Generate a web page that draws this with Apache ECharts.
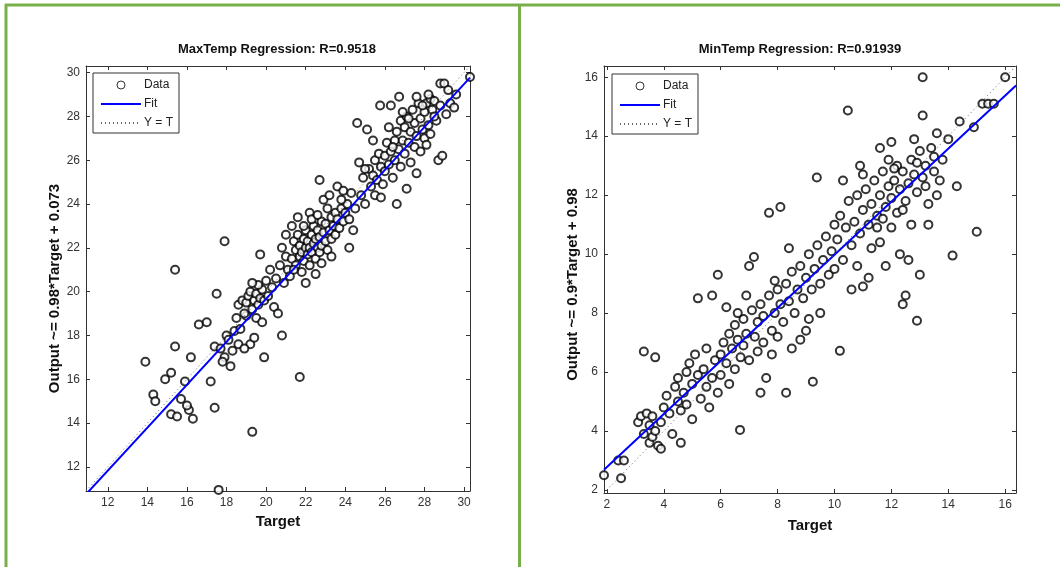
<!DOCTYPE html>
<html>
<head>
<meta charset="utf-8">
<script src="https://cdn.jsdelivr.net/npm/echarts@6/dist/echarts.min.js"></script>
<style>
  html, body { margin: 0; padding: 0; background: #fff; }
  #chart { width: 1060px; height: 567px; }
</style>
</head>
<body>
<div id="chart"></div>
<script>
// MaxTemp: [target, output]
const maxData = [
  [13.9,16.8],[14.3,15.3],[14.4,15.0],[14.9,16.0],[15.2,16.3],[15.4,17.5],[15.2,14.4],[15.5,14.3],[15.4,21.0],
  [15.7,15.1],[15.9,15.9],[16.2,17.0],[16.1,14.6],[16.3,14.2],[16.0,14.8],[16.6,18.5],[17.0,18.6],[17.2,15.9],
  [17.4,14.7],[17.5,19.9],[17.6,10.95],[17.4,17.5],[17.7,17.4],[17.9,17.0],[17.9,22.3],[17.8,16.8],[18.0,18.0],
  [18.2,16.6],[18.1,17.8],[18.3,17.3],[18.5,18.8],[18.4,18.2],[18.6,17.6],
  [18.6,19.4],[18.8,19.6],[19.0,19.5],[19.1,19.8],[19.2,20.0],[19.3,19.2],[19.4,19.6],[19.5,19.9],[19.6,19.4],
  [19.7,19.7],[19.8,20.1],[19.9,19.6],[19.6,20.3],[19.3,20.4],[19.0,18.9],[18.9,19.0],[19.5,18.8],[19.8,18.6],
  [20.1,19.8],[20.3,20.2],[20.0,20.5],[20.2,21.0],[19.7,21.7],[20.4,19.3],[19.2,17.6],[18.9,17.4],[19.4,17.9],
  [18.7,18.3],[19.9,17.0],[19.3,13.6],[20.8,18.0],[20.6,19.0],[20.5,20.6],[20.7,21.2],[20.9,20.4],
  [21.0,21.6],[21.1,21.0],[21.2,20.7],[21.3,21.5],[21.4,22.3],[21.5,21.9],[21.5,21.2],[21.6,22.6],[21.7,21.6],
  [21.7,22.1],[21.8,20.9],[21.8,21.8],[21.9,22.4],[21.9,21.4],[22.0,22.0],[22.0,22.8],[22.1,21.7],[22.1,22.3],
  [22.2,21.2],[22.2,22.0],[22.3,22.6],[22.3,21.8],[22.4,22.2],[22.4,23.0],[22.5,21.5],[22.5,22.4],[22.6,22.0],
  [22.6,22.8],[22.7,21.8],[22.7,22.5],[22.8,23.2],[22.8,22.1],[22.9,22.7],[23.0,22.3],[23.0,23.1],[23.1,21.9],
  [23.2,22.8],[23.3,23.4],[23.3,22.4],[23.4,23.0],[23.5,23.6],[23.5,22.6],[23.6,23.3],[23.7,22.9],[23.8,23.8],
  [23.9,23.2],[24.0,23.6],[24.1,24.0],[21.6,23.4],[21.3,23.0],[21.0,22.6],[20.8,22.0],[22.2,23.6],[22.7,25.1],
  [22.9,24.2],[23.2,24.4],[23.6,24.8],[22.0,20.4],[22.5,20.8],[21.7,16.1],[23.3,21.6],[22.8,21.3],[24.2,22.0],
  [24.4,22.8],[23.9,24.6],[24.2,23.3],[21.4,21.0],[21.9,23.0],[22.3,23.3],[22.6,23.5],[23.1,23.8],[23.8,24.2],
  [24.3,24.5],
  [24.5,23.8],[24.6,27.7],[24.8,24.4],[24.9,25.2],[25.0,24.0],[25.1,27.4],[25.2,25.6],[25.3,24.8],[25.4,25.3],
  [25.5,26.0],[25.5,24.4],[25.6,25.1],[25.7,26.3],[25.8,25.7],[25.76,28.5],[25.9,24.9],[26.0,25.5],[26.0,26.2],
  [26.1,26.8],[26.2,25.8],[26.3,28.5],[26.3,26.4],[26.4,25.2],[26.5,26.9],[26.5,26.0],[26.6,24.0],[26.6,27.3],
  [26.7,26.5],[26.72,28.9],[26.8,25.7],[26.8,27.8],[26.9,26.9],[27.0,26.3],[27.0,27.5],[27.1,24.7],[27.1,28.0],
  [27.2,26.8],[27.3,27.3],[27.3,25.9],[27.4,28.3],[27.5,26.6],[27.5,27.7],[27.6,27.1],[27.7,28.6],[27.8,26.4],
  [27.8,27.9],[27.9,27.4],[28.0,28.2],[28.0,27.0],[28.1,28.6],[28.2,27.6],[28.3,28.8],[28.3,27.2],[28.4,28.3],
  [28.5,28.7],[28.6,27.8],[28.7,26.0],[28.8,29.5],[28.8,28.5],[28.9,26.2],[29.0,29.5],[29.2,29.2],[29.1,28.1],
  [29.3,28.6],[29.5,28.4],[29.6,29.0],[30.3,29.8],[26.9,28.2],[27.6,28.9],[28.1,26.7],[25.4,26.9],[24.7,25.9],
  [25.0,25.6],[26.2,27.5],[27.9,28.5],[28.5,28.0],[26.4,26.6],[27.2,27.9],[25.8,24.3],[27.6,25.4],[28.2,29.0]
];

// MinTemp: [target, output]
const minData = [
  [1.9,2.5],[2.4,3.0],[2.6,3.0],[2.5,2.4],[3.1,4.3],[3.2,4.5],[3.3,3.9],[3.3,6.7],[3.4,4.6],[3.5,3.6],
  [3.5,4.2],[3.6,3.8],[3.6,4.5],[3.7,6.5],[3.7,4.0],[3.8,3.5],[3.9,3.4],[3.9,4.3],[4.0,4.8],[4.1,5.2],
  [4.2,4.6],[4.3,3.9],[4.4,5.5],[4.5,5.0],[4.5,5.8],[4.6,3.6],[4.6,4.7],[4.7,5.3],[4.8,6.0],[4.8,4.9],
  [4.9,6.3],[5.0,5.6],[5.0,4.4],[5.1,6.6],[5.2,5.9],[5.3,5.1],[5.2,8.5],[5.4,6.1],[5.5,5.5],[5.5,6.8],
  [5.6,4.8],[5.7,5.8],[5.7,8.6],[5.8,6.4],[5.9,9.3],[5.9,5.3],[6.0,6.6],[6.0,5.9],
  [6.1,7.0],[6.2,6.3],[6.3,7.3],[6.3,5.6],[6.4,6.8],[6.5,7.6],[6.5,6.1],[6.6,7.1],[6.68,4.04],[6.7,6.5],
  [6.8,7.8],[6.8,6.9],[6.9,7.3],[7.0,9.6],[7.0,6.4],[7.1,8.1],[7.17,9.9],[7.2,7.2],[7.3,7.7],[7.3,6.7],
  [7.4,8.3],[7.5,7.0],[7.5,7.9],[7.6,5.8],[7.7,11.4],[7.7,8.6],[7.8,7.4],[7.9,8.0],[8.0,8.8],[8.0,7.2],
  [8.1,11.6],[8.1,8.3],[8.2,7.7],[8.3,9.0],[8.4,8.4],[8.5,6.8],[8.5,9.4],[8.6,8.0],[8.7,8.8],[8.8,9.6],
  [8.9,8.5],[9.0,9.2],[9.0,7.4],[9.1,10.0],[9.2,8.8],[9.24,5.67],[9.3,9.5],[9.38,12.6],[9.4,10.3],[9.5,9.0],
  [9.5,8.0],[9.6,9.8],[9.7,10.6],[9.8,9.3],[9.9,10.1],[10.0,11.0],[10.0,9.5],[6.2,8.2],[6.6,8.0],[7.4,5.3],
  [8.3,5.3],[7.9,9.1],[8.8,7.1],[6.9,8.6],[7.8,6.6],[9.1,7.8],[8.4,10.2],
  [10.1,10.5],[10.19,6.72],[10.2,11.3],[10.3,9.8],[10.4,10.9],[10.47,14.87],[10.5,11.8],[10.6,10.3],[10.7,11.1],
  [10.8,12.0],[10.8,9.6],[10.9,13.0],[10.9,10.7],[11.0,11.5],[11.1,12.2],[11.2,9.2],[11.2,11.0],[11.3,11.7],
  [11.4,12.5],[11.5,16.4],[11.5,11.3],[11.6,10.4],[11.6,12.0],[11.7,12.8],[11.8,11.6],[11.9,13.2],[11.9,12.3],
  [12.0,11.9],[12.0,10.9],[12.1,12.5],[12.2,13.0],[12.2,11.4],[12.3,12.2],[12.4,12.8],[12.4,8.3],[12.5,11.8],
  [12.5,8.6],[12.6,12.4],[12.7,13.2],[12.7,11.0],[12.8,12.7],[12.9,7.74],[12.9,12.1],[13.0,13.5],[13.0,9.3],
  [13.1,16.0],[13.1,14.7],[13.1,12.6],[13.2,13.0],[13.3,11.7],[13.4,13.6],[13.5,12.8],[13.5,13.3],[13.6,14.1],
  [13.7,12.5],[13.8,13.2],[14.0,13.9],[14.15,9.95],[14.3,12.3],[14.4,14.5],[14.9,14.3],[15.0,10.76],[15.2,15.1],
  [15.4,15.1],[15.6,15.1],[16.0,16.0],[12.3,10.0],[11.8,9.6],[12.6,9.8],[10.6,8.8],[11.0,8.9],[13.3,11.0],
  [12.8,13.9],[13.6,12.0],[11.3,10.2],[12.1,12.9],[12.9,13.1],[13.2,12.3],[11.6,13.6],[12.4,11.5],[10.3,12.5],
  [11.0,12.7],[12.0,13.8],[11.5,10.9],[11.7,11.2]
];

// fit lines and Y = T lines (end points)
const maxFit = [[10.9, 10.75], [30.3, 29.77]];
const maxIdent = [[10.9, 10.9], [30.3, 30.3]];
const minFit = [[1.9, 2.69], [16.38, 15.72]];
const minIdent = [[1.9, 1.9], [16.38, 16.38]];

const maxTicks = [12, 14, 16, 18, 20, 22, 24, 26, 28, 30];
const minTicks = [2, 4, 6, 8, 10, 12, 14, 16];
const maxRange = [10.9, 30.3];
const minRange = [1.9, 16.38];

const FONT = '"Liberation Sans", Arial, sans-serif';
const green = '#77b04a';

const myChart = echarts.init(document.getElementById('chart'));

function boxAxis(grid, range, ticks, pos, showLabel, name, nameGap, nameRotate, namePad) {
    return {
        type: 'value', gridIndex: grid, position: pos,
        min: range[0], max: range[1],
        name: showLabel ? name : '',
        nameLocation: 'middle', nameGap: nameGap, nameRotate: nameRotate,
        nameTextStyle: { fontFamily: FONT, fontWeight: 'bold', fontSize: 15, color: '#111', padding: namePad || 0 },
        splitLine: { show: false },
        axisLine: { show: true, onZero: false, lineStyle: { color: '#333', width: 1 } },
        axisTick: { show: true, inside: true, length: 4, customValues: ticks, lineStyle: { color: '#333' } },
        axisLabel: {
            show: showLabel, customValues: ticks, margin: 6,
            fontFamily: FONT, fontSize: 12, color: '#333'
        }
    };
}

function legendFor(left, top) {
    return {
        orient: 'vertical', left: left, top: top,
        selectedMode: false,
        itemWidth: 40, itemHeight: 8, itemGap: 7,
        padding: [6, 6, 4, 7],
        borderColor: '#333', borderWidth: 1, borderRadius: 0,
        backgroundColor: '#fff',
        textStyle: { fontFamily: FONT, fontSize: 12, color: '#222', padding: [0, 0, 0, -2] },
        data: [
            { name: 'Data', icon: 'circle', itemStyle: { color: '#fff', borderColor: '#000', borderWidth: 1 } },
            { name: 'Fit', itemStyle: { opacity: 0 } },
            { name: 'Y = T', itemStyle: { opacity: 0 } }
        ]
    };
}

function seriesFor(idx, data, fit, ident) {
    return [
        {
            name: 'Data', type: 'scatter', xAxisIndex: idx * 2, yAxisIndex: idx * 2,
            data: data, symbol: 'emptyCircle', symbolSize: 8,
            itemStyle: { color: '#000', borderColor: '#000', borderWidth: 1 },
            emphasis: { disabled: true }
        },
        {
            name: 'Fit', type: 'line', xAxisIndex: idx * 2, yAxisIndex: idx * 2,
            data: fit, showSymbol: false, symbol: 'none',
            lineStyle: { color: '#0000ff', width: 2 }, itemStyle: { color: '#0000ff' },
            emphasis: { disabled: true }
        },
        {
            name: 'Y = T', type: 'line', xAxisIndex: idx * 2, yAxisIndex: idx * 2,
            data: ident, showSymbol: false, symbol: 'none',
            lineStyle: { color: '#666', width: 1, type: [1, 3] }, itemStyle: { color: '#666' },
            emphasis: { disabled: true }
        }
    ];
}

const option = {
    animation: false,
    backgroundColor: '#fff',
    title: [
        { text: 'MaxTemp Regression: R=0.9518', left: 272, top: 38, textAlign: 'center',
          textStyle: { fontFamily: FONT, fontSize: 13, fontWeight: 'bold', color: '#111' } },
        { text: 'MinTemp Regression: R=0.91939', left: 795, top: 38, textAlign: 'center',
          textStyle: { fontFamily: FONT, fontSize: 13, fontWeight: 'bold', color: '#111' } }
    ],
    grid: [
        { left: 86, top: 66, width: 384, height: 425 },
        { left: 604, top: 66, width: 412, height: 427 }
    ],
    xAxis: [
        boxAxis(0, maxRange, maxTicks, 'bottom', true, 'Target', 23, 0),
        boxAxis(0, maxRange, maxTicks, 'top', false, '', 0, 0),
        boxAxis(1, minRange, minTicks, 'bottom', true, 'Target', 25, 0),
        boxAxis(1, minRange, minTicks, 'top', false, '', 0, 0)
    ],
    yAxis: [
        boxAxis(0, maxRange, maxTicks, 'left', true, 'Output ~= 0.98*Target + 0.073', 24, 90, [0, 20, 0, 0]),
        boxAxis(0, maxRange, maxTicks, 'right', false, '', 0, 90),
        boxAxis(1, minRange, minTicks, 'left', true, 'Output ~= 0.9*Target + 0.98', 24, 90, [0, 10, 0, 0]),
        boxAxis(1, minRange, minTicks, 'right', false, '', 0, 90)
    ],
    legend: [legendFor(93, 73), legendFor(612, 74)],
    series: [].concat(
        seriesFor(0, maxData, maxFit, maxIdent),
        seriesFor(1, minData, minFit, minIdent)
    ),
    graphic: [
        { type: 'line', shape: { x1: 5, y1: 5, x2: 1060, y2: 5 }, style: { stroke: green, lineWidth: 3 } },
        { type: 'line', shape: { x1: 6, y1: 4, x2: 6, y2: 567 }, style: { stroke: green, lineWidth: 3 } },
        { type: 'line', shape: { x1: 519.5, y1: 4, x2: 519.5, y2: 567 }, style: { stroke: green, lineWidth: 3 } }
    ]
};

myChart.setOption(option);
</script>
</body>
</html>
